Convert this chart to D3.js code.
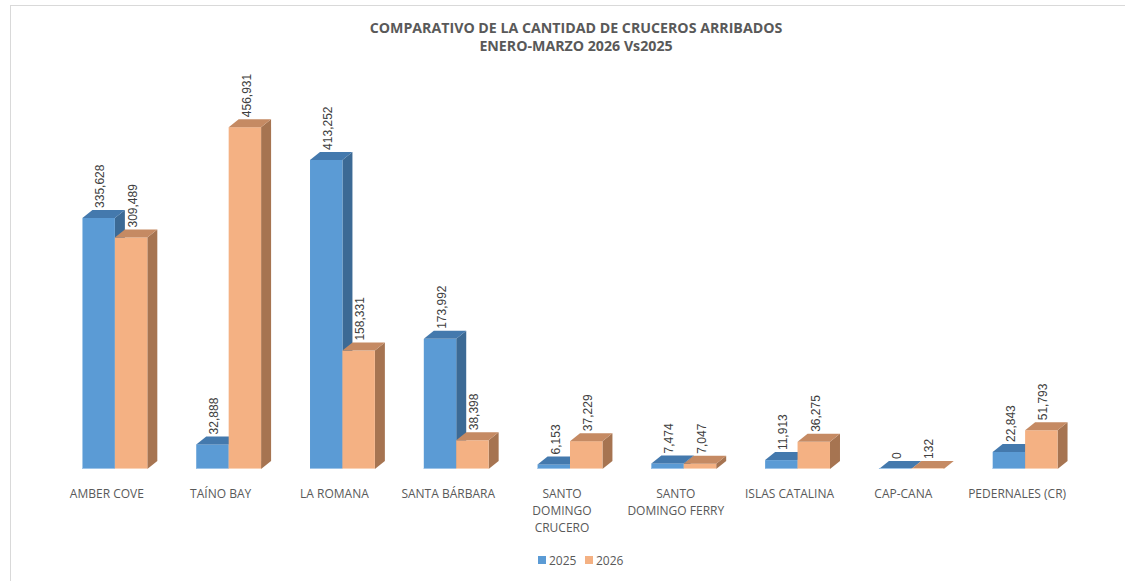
<!DOCTYPE html>
<html><head><meta charset="utf-8">
<script src="https://cdn.jsdelivr.net/npm/d3@7"></script>
<style>html,body{margin:0;padding:0;background:#fff;}svg{display:block;}</style>
</head><body>
<script>
const categories = ["AMBER COVE","TAÍNO BAY","LA ROMANA","SANTA BÁRBARA","SANTO\nDOMINGO\nCRUCERO","SANTO\nDOMINGO FERRY","ISLAS CATALINA","CAP-CANA","PEDERNALES (CR)"];
const seriesNames = ["2025","2026"];
const values2025 = [335628, 32888, 413252, 173992, 6153, 7474, 11913, 0, 22843];
const values2026 = [309489, 456931, 158331, 38398, 37229, 7047, 36275, 132, 51793];
const titleLines = ["COMPARATIVO DE LA CANTIDAD DE CRUCEROS ARRIBADOS","ENERO-MARZO 2026 Vs2025"];

const W = 1125, H = 581;
const svg = d3.select("body").append("svg").attr("width", W).attr("height", H);
svg.append("rect").attr("x", 10.5).attr("y", 5.5).attr("width", W).attr("height", H)
  .attr("fill", "#fff").attr("stroke", "#d9d9d9");

const colors = {
  "2025": {front: "#5b9bd5", top: "#4479ad", side: "#3c6a95"},
  "2026": {front: "#f4b183", top: "#c58a63", side: "#a67451"}
};

const x0 = d3.scaleBand().domain(categories).range([58, 1082]).paddingInner(0.43).paddingOuter(0.215);
const x1 = d3.scaleBand().domain(seriesNames).range([0, x0.bandwidth()]);
const y = d3.scaleLinear().domain([0, 500000]).range([469, 95]);
const dx = 10, dy = 8;

const data = categories.map((c, i) => ({cat: c, vals: [values2025[i], values2026[i]]}));

const g = svg.append("g");
data.forEach(d => {
  seriesNames.forEach((s, j) => {
    const v = d.vals[j];
    const xl = x0(d.cat) + x1(s), w = x1.bandwidth();
    const yt = y(v), yb = y(0);
    const c = colors[s];
    g.append("path").attr("d", `M${xl+w},${yb} L${xl+w+dx},${yb-dy} L${xl+w+dx},${yt-dy} L${xl+w},${yt} Z`).attr("fill", c.side);
    g.append("rect").attr("x", xl).attr("y", yt).attr("width", w).attr("height", yb - yt).attr("fill", c.front);
    g.append("path").attr("d", `M${xl},${yt} L${xl+dx},${yt-dy} L${xl+w+dx},${yt-dy} L${xl+w},${yt} Z`).attr("fill", c.top);
    g.append("line").attr("x1", xl).attr("x2", xl + w).attr("y1", yb - 0.5).attr("y2", yb - 0.5)
      .attr("stroke", s === "2025" ? "#9cc3e8" : "#f9d3b8").attr("stroke-width", 1);
  });
});
data.forEach(d => {
  seriesNames.forEach((s, j) => {
    const v = d.vals[j];
    const xl = x0(d.cat) + x1(s);
    const tx = xl + 22, ty = y(v) - 10;
    svg.append("text").attr("transform", `translate(${tx},${ty}) rotate(-90)`)
      .attr("font-family", "Liberation Sans, Arial, sans-serif").attr("font-size", 12)
      .attr("fill", "#404040").text(d3.format(",")(v));
  });
});
data.forEach(d => {
  const cx = x0(d.cat) + x0.bandwidth() / 2 - 8;
  const t = svg.append("text").attr("text-anchor", "middle")
    .attr("font-family", "Open Sans, sans-serif").attr("font-size", 12).attr("fill", "#595959");
  d.cat.split("\n").forEach((line, k) => {
    t.append("tspan").attr("x", cx).attr("y", 498 + k * 17).text(line);
  });
});
titleLines.forEach((line, k) => {
  svg.append("text").attr("x", 576).attr("y", 33 + k * 18).attr("text-anchor", "middle")
    .attr("font-family", "Open Sans, sans-serif").attr("font-weight", "bold").attr("font-size", 14.2)
    .attr("fill", "#595959").text(line);
});
const lg = svg.append("g");
const legendX = [538, 585];
seriesNames.forEach((s, j) => {
  lg.append("rect").attr("x", legendX[j]).attr("y", 556).attr("width", 8).attr("height", 8).attr("fill", colors[s].front);
  lg.append("text").attr("x", legendX[j] + 11).attr("y", 564.5)
    .attr("font-family", "Open Sans, sans-serif").attr("font-size", 12).attr("fill", "#595959").text(s);
});
</script>
</body></html>
